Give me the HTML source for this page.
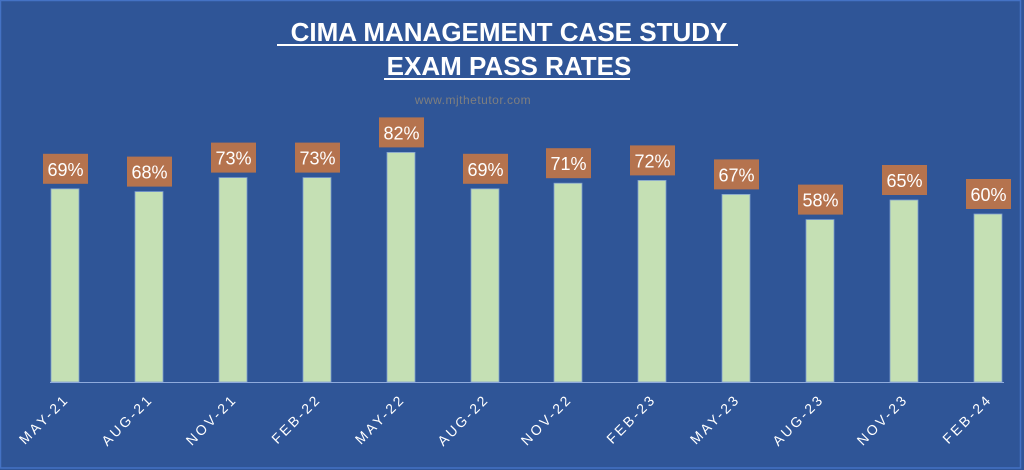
<!DOCTYPE html>
<html><head><style>
html,body{margin:0;padding:0;background:#2F5597;}
svg{display:block;}
</style></head><body>
<svg width="1024" height="470" viewBox="0 0 1024 470" xmlns="http://www.w3.org/2000/svg" font-family="'Liberation Sans', 'DejaVu Sans', sans-serif">
<rect x="0" y="0" width="1024" height="470" fill="#2F5597"/>
<rect x="0.5" y="0.5" width="1020" height="467.5" fill="none" stroke="#4472C4" stroke-width="1.5"/>
<text x="509" y="41" text-anchor="middle" fill="#fff" font-size="26" font-weight="bold">CIMA MANAGEMENT CASE STUDY</text>
<rect x="277" y="44" width="461" height="2" fill="#fff"/>
<text x="509" y="75" text-anchor="middle" fill="#fff" font-size="26" font-weight="bold">EXAM PASS RATES</text>
<rect x="384" y="78" width="246" height="2" fill="#fff"/>
<text x="473" y="104" text-anchor="middle" fill="#7F7F7F" font-size="12" letter-spacing="0.5">www.mjthetutor.com</text>

<g fill="#C5E0B4" stroke="#7F9FCF" stroke-width="0.8">
<rect x="51" y="188.8" width="28" height="193.2"/>
<rect x="135" y="191.6" width="28" height="190.4"/>
<rect x="219" y="177.6" width="28" height="204.4"/>
<rect x="303" y="177.6" width="28" height="204.4"/>
<rect x="387" y="152.4" width="28" height="229.6"/>
<rect x="471" y="188.8" width="28" height="193.2"/>
<rect x="554" y="183.2" width="28" height="198.8"/>
<rect x="638" y="180.4" width="28" height="201.6"/>
<rect x="722" y="194.4" width="28" height="187.6"/>
<rect x="806" y="219.6" width="28" height="162.4"/>
<rect x="890" y="200" width="28" height="182"/>
<rect x="974" y="214" width="28" height="168"/>
</g>
<g fill="#B5734E">
<rect x="43" y="153.8" width="45" height="30"/>
<rect x="127" y="156.6" width="45" height="30"/>
<rect x="211" y="142.6" width="45" height="30"/>
<rect x="295" y="142.6" width="45" height="30"/>
<rect x="379" y="117.4" width="45" height="30"/>
<rect x="463" y="153.8" width="45" height="30"/>
<rect x="546" y="148.2" width="45" height="30"/>
<rect x="630" y="145.4" width="45" height="30"/>
<rect x="714" y="159.4" width="45" height="30"/>
<rect x="798" y="184.6" width="45" height="30"/>
<rect x="882" y="165" width="45" height="30"/>
<rect x="966" y="179" width="45" height="30"/>
</g>
<g fill="#fff" font-size="18" text-anchor="middle">
<text x="65.5" y="175.8">69%</text>
<text x="149.5" y="178.6">68%</text>
<text x="233.5" y="164.6">73%</text>
<text x="317.5" y="164.6">73%</text>
<text x="401.5" y="139.4">82%</text>
<text x="485.5" y="175.8">69%</text>
<text x="568.5" y="170.2">71%</text>
<text x="652.5" y="167.4">72%</text>
<text x="736.5" y="181.4">67%</text>
<text x="820.5" y="206.6">58%</text>
<text x="904.5" y="187">65%</text>
<text x="988.5" y="201">60%</text>
</g>
<line x1="50" y1="382.5" x2="1004" y2="382.5" stroke="#8FAADC" stroke-width="1"/>
<g fill="#fff" font-size="14" letter-spacing="2.6" text-anchor="end">
<text x="70" y="400" transform="rotate(-45 70 400)">MAY-21</text>
<text x="154" y="400" transform="rotate(-45 154 400)">AUG-21</text>
<text x="238" y="400" transform="rotate(-45 238 400)">NOV-21</text>
<text x="322" y="400" transform="rotate(-45 322 400)">FEB-22</text>
<text x="406" y="400" transform="rotate(-45 406 400)">MAY-22</text>
<text x="490" y="400" transform="rotate(-45 490 400)">AUG-22</text>
<text x="573" y="400" transform="rotate(-45 573 400)">NOV-22</text>
<text x="657" y="400" transform="rotate(-45 657 400)">FEB-23</text>
<text x="741" y="400" transform="rotate(-45 741 400)">MAY-23</text>
<text x="825" y="400" transform="rotate(-45 825 400)">AUG-23</text>
<text x="909" y="400" transform="rotate(-45 909 400)">NOV-23</text>
<text x="993" y="400" transform="rotate(-45 993 400)">FEB-24</text>
</g>
</svg>
</body></html>
